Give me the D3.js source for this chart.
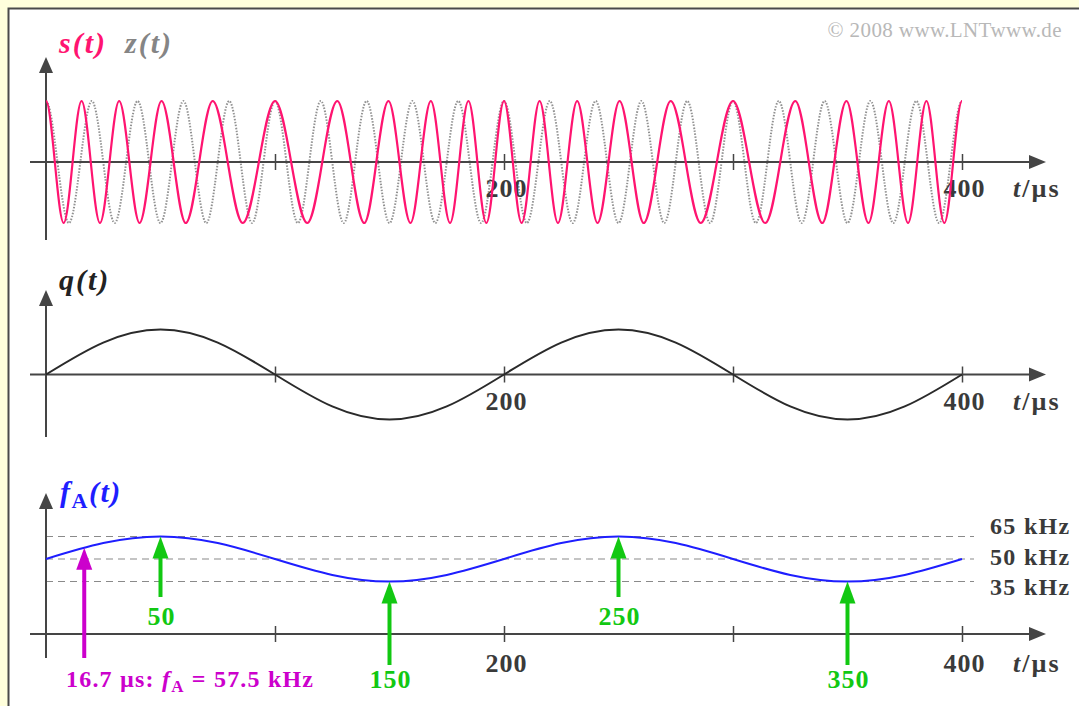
<!DOCTYPE html>
<html>
<head>
<meta charset="utf-8">
<script src="https://cdn.jsdelivr.net/npm/d3@7"></script>
<style>
body { margin: 0; background: #ffffdc; }
svg { display: block; }
</style>
</head>
<body>
<svg width="1079" height="706"></svg>
<script>
// ---- values ----
var tTicks = [100, 200, 300, 400];
var tLabels = [200, 400];

// s(t): times (µs) of its maxima / minima, and the value there
var sExtT = [0, 7.71, 15.53, 23.56, 31.94, 40.85, 50.45, 61.02, 72.80, 85.91,
             100, 114.09, 127.20, 138.98, 149.55, 159.15, 168.06, 176.44, 184.47, 192.29,
             200, 207.71, 215.53, 223.56, 231.94, 240.85, 250.45, 261.02, 272.80, 285.91,
             300, 314.09, 327.20, 338.98, 349.55, 359.15, 368.06, 376.44, 384.47, 392.29, 400];
var sExtV = [1, -1, 1, -1, 1, -1, 1, -1, 1, -1, 1, -1, 1, -1, 1, -1, 1, -1, 1, -1,
             1, -1, 1, -1, 1, -1, 1, -1, 1, -1, 1, -1, 1, -1, 1, -1, 1, -1, 1, -1, 1];

// z(t): carrier, maxima / minima
var zExtT = [0, 10, 20, 30, 40, 50, 60, 70, 80, 90, 100, 110, 120, 130, 140, 150, 160, 170, 180, 190,
             200, 210, 220, 230, 240, 250, 260, 270, 280, 290, 300, 310, 320, 330, 340, 350, 360, 370, 380, 390, 400];
var zExtV = [1, -1, 1, -1, 1, -1, 1, -1, 1, -1, 1, -1, 1, -1, 1, -1, 1, -1, 1, -1,
             1, -1, 1, -1, 1, -1, 1, -1, 1, -1, 1, -1, 1, -1, 1, -1, 1, -1, 1, -1, 1];

// q(t) and f_A(t) read every 25 µs
var sampT = [0, 25, 50, 75, 100, 125, 150, 175, 200, 225, 250, 275, 300, 325, 350, 375, 400];
var qV = [0, 0.71, 1, 0.71, 0, -0.71, -1, -0.71, 0, 0.71, 1, 0.71, 0, -0.71, -1, -0.71, 0];
var fV = [50, 60.6, 65, 60.6, 50, 39.4, 35, 39.4, 50, 60.6, 65, 60.6, 50, 39.4, 35, 39.4, 50];

var fLevels = [65, 50, 35];
var fLevelLabels = ["65 kHz", "50 kHz", "35 kHz"];

var extT = [50, 150, 250, 350];
var extF = [65, 35, 65, 35];
var markT = 16.7, markF = 57.5;

// ---- drawing ----
var svg = d3.select("svg");
var serif = "'Liberation Serif', 'Times New Roman', serif";
var axisColor = "#454545";
var textColor = "#3a3a3a";

svg.append("rect")
  .attr("x", 8.5).attr("y", 8.5)
  .attr("width", 1090).attr("height", 720)
  .attr("fill", "#fff")
  .attr("stroke", "#4a4a4a")
  .attr("stroke-width", 2);

var x = d3.scaleLinear().domain([0, 400]).range([46, 962]);
var ySig = d3.scaleLinear().domain([-1, 1]).range([223, 101]);
var yQ = d3.scaleLinear().domain([-1, 1]).range([419.5, 329.5]);
var yF = d3.scaleLinear().domain([0, 65]).range([634, 536.5]);

// cubic pieces with flat tangents at every point (peak to trough)
function curveFlat(context) {
  var x0, y0, n;
  return {
    areaStart: function() {}, areaEnd: function() {},
    lineStart: function() { n = 0; },
    lineEnd: function() {},
    point: function(px, py) {
      px = +px; py = +py;
      if (n++ === 0) context.moveTo(px, py);
      else {
        var h = (px - x0) / 3;
        context.bezierCurveTo(x0 + h, y0, px - h, py, px, py);
      }
      x0 = px; y0 = py;
    }
  };
}

function panelAxes(y0, yTop, yBottom, labelY) {
  // x axis with arrow
  svg.append("line")
    .attr("x1", 30).attr("x2", 1032)
    .attr("y1", y0).attr("y2", y0)
    .attr("stroke", axisColor).attr("stroke-width", 2);
  svg.append("path")
    .attr("d", "M1046," + y0 + "L1029," + (y0 - 7) + "L1029," + (y0 + 7) + "Z")
    .attr("fill", axisColor);
  // y axis with arrow
  svg.append("line")
    .attr("x1", 46).attr("x2", 46)
    .attr("y1", yBottom).attr("y2", yTop + 14)
    .attr("stroke", axisColor).attr("stroke-width", 2);
  svg.append("path")
    .attr("d", "M46," + yTop + "L39," + (yTop + 16) + "L53," + (yTop + 16) + "Z")
    .attr("fill", axisColor);

  var ax = svg.append("g")
    .attr("transform", "translate(0," + (y0 - 8) + ")")
    .call(d3.axisBottom(x).tickValues(tTicks).tickSize(16)
      .tickFormat(function(d) { return tLabels.indexOf(d) >= 0 ? d : ""; }));
  ax.select(".domain").remove();
  ax.selectAll(".tick line").attr("stroke", axisColor).attr("stroke-width", 1.5);
  ax.selectAll(".tick text")
    .attr("y", labelY - (y0 - 8)).attr("dy", 0).attr("dx", 2)
    .attr("fill", textColor)
    .attr("font-family", serif).attr("font-size", 26).attr("font-weight", "bold")
    .attr("letter-spacing", 1);

  var u = svg.append("text")
    .attr("x", 1013).attr("y", labelY)
    .attr("font-family", serif).attr("font-size", 26).attr("font-weight", "bold")
    .attr("letter-spacing", 2)
    .attr("fill", textColor);
  u.append("tspan").attr("font-style", "italic").text("t");
  u.append("tspan").text("/µs");
}

// ---- top panel: s(t), z(t) ----
var line = d3.line().curve(curveFlat);

svg.append("path")
  .attr("d", line(zExtT.map(function(t, i) { return [x(t), ySig(zExtV[i])]; })))
  .attr("fill", "none")
  .attr("stroke", "#929292")
  .attr("stroke-width", 2)
  .attr("stroke-dasharray", "1.5,1.5");

panelAxes(162, 57, 240, 197);

svg.append("path")
  .attr("d", line(sExtT.map(function(t, i) { return [x(t), ySig(sExtV[i])]; })))
  .attr("fill", "none")
  .attr("stroke", "#ff1470")
  .attr("stroke-width", 2.2);

var lab = svg.append("text").attr("x", 59).attr("y", 53)
  .attr("font-family", serif).attr("font-size", 30)
  .attr("font-weight", "bold").attr("font-style", "italic")
  .attr("letter-spacing", 2);
lab.append("tspan").attr("fill", "#ff1470").text("s(t)");
lab.append("tspan").attr("fill", "#858585").attr("dx", 18).text("z(t)");

svg.append("text")
  .attr("x", 1062).attr("y", 37)
  .attr("text-anchor", "end")
  .attr("font-family", serif).attr("font-size", 21)
  .attr("letter-spacing", 0.4)
  .attr("fill", "#b8b8b8")
  .text("© 2008 www.LNTwww.de");

// ---- middle panel: q(t) ----
panelAxes(374.5, 290, 437, 410);

svg.append("path")
  .attr("d", d3.line().curve(d3.curveNatural)
    .x(function(t) { return x(t); })
    .y(function(t, i) { return yQ(qV[i]); })(sampT))
  .attr("fill", "none")
  .attr("stroke", "#2a2a2a")
  .attr("stroke-width", 2);

svg.append("text").attr("x", 59).attr("y", 290)
  .attr("font-family", serif).attr("font-size", 30)
  .attr("font-weight", "bold").attr("font-style", "italic")
  .attr("letter-spacing", 2)
  .attr("fill", "#222").text("q(t)");

// ---- bottom panel: f_A(t) ----
svg.selectAll(".level")
  .data(fLevels)
  .enter().append("line")
  .attr("class", "level")
  .attr("x1", 46).attr("x2", 974)
  .attr("y1", function(d) { return yF(d); })
  .attr("y2", function(d) { return yF(d); })
  .attr("stroke", "#8a8a8a").attr("stroke-width", 1.2)
  .attr("stroke-dasharray", "7,5");

svg.selectAll(".levelLabel")
  .data(fLevelLabels)
  .enter().append("text")
  .attr("class", "levelLabel")
  .attr("x", 990)
  .attr("y", function(d, i) { return [534, 565, 595][i]; })
  .attr("font-family", serif).attr("font-size", 24).attr("font-weight", "bold")
  .attr("letter-spacing", 1.3)
  .attr("fill", textColor)
  .text(function(d) { return d; });

panelAxes(634, 493, 658, 672);

svg.append("path")
  .attr("d", d3.line().curve(d3.curveNatural)
    .x(function(t) { return x(t); })
    .y(function(t, i) { return yF(fV[i]); })(sampT))
  .attr("fill", "none")
  .attr("stroke", "#1e1eff")
  .attr("stroke-width", 2);

var fl = svg.append("text").attr("x", 60).attr("y", 502)
  .attr("font-family", serif).attr("font-size", 30)
  .attr("font-weight", "bold").attr("fill", "#1e1eff")
  .attr("letter-spacing", 1.5);
fl.append("tspan").attr("font-style", "italic").text("f");
fl.append("tspan").attr("font-size", 22).attr("dy", 6).text("A");
fl.append("tspan").attr("font-style", "italic").attr("dy", -6).text("(t)");

function upArrow(t, tipY, bottomY, color) {
  var px = x(t);
  svg.append("line")
    .attr("x1", px).attr("x2", px)
    .attr("y1", bottomY).attr("y2", tipY + 18)
    .attr("stroke", color).attr("stroke-width", 4);
  svg.append("path")
    .attr("d", "M" + px + "," + tipY + "L" + (px - 8) + "," + (tipY + 22) + "L" + (px + 8) + "," + (tipY + 22) + "Z")
    .attr("fill", color);
}

var green = "#12c812";
extT.forEach(function(t, i) {
  var high = extF[i] > 50;
  upArrow(t, yF(extF[i]), high ? 597 : 665, green);
  svg.append("text")
    .attr("x", x(t)).attr("y", high ? 625 : 688)
    .attr("dx", 1)
    .attr("text-anchor", "middle")
    .attr("font-family", serif).attr("font-size", 26).attr("font-weight", "bold")
    .attr("letter-spacing", 1)
    .attr("fill", green)
    .text(t);
});

var magenta = "#cc00cc";
upArrow(markT, yF(markF), 658, magenta);
var ml = svg.append("text").attr("x", 66).attr("y", 687)
  .attr("font-family", serif).attr("font-size", 24).attr("font-weight", "bold")
  .attr("letter-spacing", 1.2)
  .attr("fill", magenta);
ml.append("tspan").text(markT + " µs: ");
ml.append("tspan").attr("font-style", "italic").text("f");
ml.append("tspan").attr("font-size", 17).attr("dy", 5).text("A");
ml.append("tspan").attr("dy", -5).text(" = " + markF + " kHz");
</script>
</body>
</html>
